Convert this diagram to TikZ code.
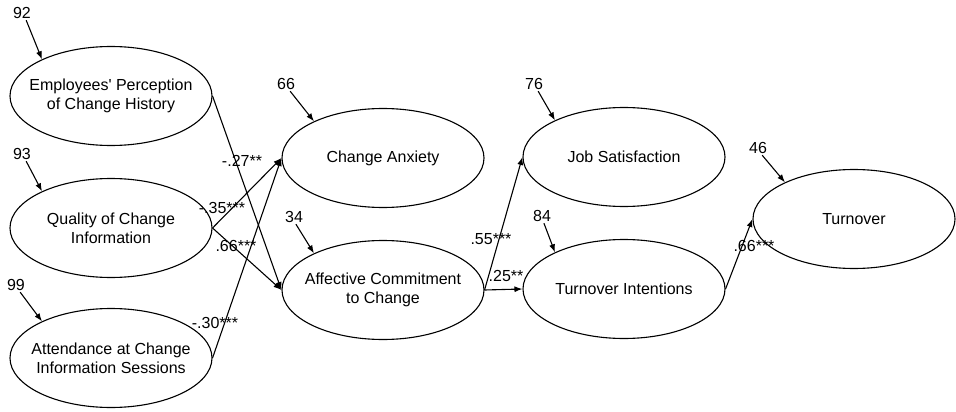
\documentclass[tikz,border=0pt]{standalone}
\usepackage{fontspec}
\setmainfont{Liberation Sans}
\usetikzlibrary{arrows.meta,shapes.geometric}

\begin{document}
\begin{tikzpicture}[x=1pt, y=-1pt, line width=1.1pt,
  latent/.style={draw, ellipse, minimum width=202pt, minimum height=99pt, inner xsep=-12pt, inner ysep=0pt, align=center, font=\fontsize{16}{19}\selectfont},
  num/.style={inner sep=1pt, font=\fontsize{16}{19}\selectfont},
  coef/.style={inner sep=0pt, font=\fontsize{16}{19}\selectfont},
  link/.style={-{Latex[length=8pt,width=6pt]}}]
%%%%% Frame %%%%%
\useasboundingbox (0,0) rectangle (956,412);

%%%%% Latent variables %%%%%
\node[latent] (hist) at (111,96) {Employees\textquotesingle{} Perception\\of Change History};
\node[latent] (qual) at (111,228) {Quality of Change\\Information};
\node[latent] (attd) at (111,358) {Attendance at Change\\Information Sessions};
\node[latent] (anx) at (383,158) {Change Anxiety};
\node[latent] (acc) at (383,290) {Affective Commitment\\to Change};
\node[latent] (jsat) at (624,157) {Job Satisfaction};
\node[latent] (tint) at (624,289) {Turnover Intentions};
\node[latent] (turn) at (854,219) {Turnover};

%%%%% Residuals %%%%%
\node[num] (r92) at (22,13) {92};
\node[num] (r93) at (22,154) {93};
\node[num] (r99) at (16,285) {99};
\node[num] (r66) at (286,84) {66};
\node[num] (r34) at (294,217) {34};
\node[num] (r76) at (534,84) {76};
\node[num] (r84) at (542,216) {84};
\node[num] (r46) at (758,148) {46};
\draw[link] (r92.-60) -- (hist.152);
\draw[link] (r93.-60) -- (qual.152);
\draw[link] (r99.-60) -- (attd.152);
\draw[link] (r66.-60) -- (anx.152);
\draw[link] (r34.-75) -- (acc.152);
\draw[link] (r76.-60) -- (jsat.152);
\draw[link] (r84.-75) -- (tint.152);
\draw[link] (r46.-60) -- (turn.152);

%%%%% Paths %%%%%
\draw[link] (hist.east) -- (acc.west);
\draw[link] (qual.east) -- (anx.west);
\draw[link] (qual.east) -- (acc.west);
\draw[link] (attd.east) -- (anx.west);
\draw[link] (acc.east) -- (jsat.west);
\draw[link] (acc.east) -- (tint.west);
\draw[link] (tint.east) -- (turn.west);

%%%%% Coefficients %%%%%
\node[coef] (c27) at (242,161) {-.27**};
\node[coef] (c35) at (222,208) {-.35***};
\node[coef] (c66a) at (236,246) {.66***};
\node[coef] (c30) at (215,323) {-.30***};
\node[coef] (c55) at (491,239) {.55***};
\node[coef] (c25) at (506,276) {.25**};
\node[coef] (c66b) at (754,246) {.66***};
\end{tikzpicture}
\end{document}
